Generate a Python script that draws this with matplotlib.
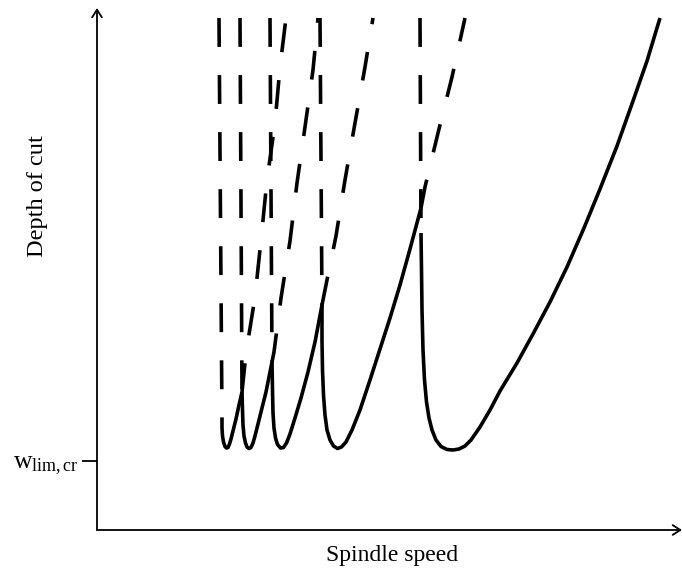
import matplotlib
matplotlib.use("Agg")
import matplotlib.pyplot as plt

plt.rcParams['font.family'] = ['Liberation Serif', 'DejaVu Serif']
plt.rcParams['mathtext.fontset'] = 'custom'
plt.rcParams['mathtext.rm'] = 'Liberation Serif'
plt.rcParams['mathtext.it'] = 'Liberation Serif:italic'

# stability lobes (arbitrary units: speed, depth of cut)
# solid part of each lobe, from the left cusp through the minimum to the right cusp
lobe1_x = [125, 125, 125.5, 126.5, 128, 129.5, 131, 132.5, 134, 136, 139, 142, 145]
lobe1_y = [110, 102, 94, 88, 83.5, 82, 82.5, 86, 91, 99, 111, 125, 138]
lobe2_x = [145, 145.5, 146, 147, 148.5, 150, 152, 154, 156, 158, 161, 165, 169, 172, 175]
lobe2_y = [138, 120, 105, 94, 87, 83, 81.5, 82.5, 87, 94, 106, 122, 138, 153, 168]
lobe3_x = [175, 175.5, 176, 177, 178.5, 180.5, 183.5, 186.5, 189.5, 193, 198, 204, 211, 218, 225]
lobe3_y = [168, 140, 117, 102, 92, 85.5, 82, 82.5, 87, 96, 112, 132, 158, 188, 225]
lobe4_x = [225, 225, 225.5, 226.5, 228, 230, 233, 236.5, 240.5, 244.5, 249, 255, 263, 273,
           283, 293, 303, 313, 324]
lobe4_y = [225, 190, 160, 135, 115, 100, 90, 84, 81.5, 83, 88, 100, 120, 150,
           181, 212, 245, 281, 322]
lobe5_x = [324, 324.5, 325, 326, 327.5, 329.5, 332, 335, 339, 344, 350, 356, 362, 368, 374,
           383, 393, 403, 420, 436, 453, 470, 487, 503, 520, 536, 550, 563]
lobe5_y = [297, 260, 220, 180, 150, 128, 112, 100, 90, 83.5, 80.5, 80, 81, 84, 90,
           103, 120, 139, 167, 196, 228, 263, 302, 341, 384, 429, 469, 512]

# dashed continuations: left branches (top -> cusp)
left1_x, left1_y = [122, 125], [512, 110]
left2_x, left2_y = [143, 145], [512, 138]
left3_x, left3_y = [173, 175], [512, 168]
left4_x, left4_y = [223, 225], [512, 225]
left5_x, left5_y = [323, 324], [512, 297]

# dashed continuations: right branches (cusp -> top)
right1_x = [145, 149, 158, 164, 170, 178, 183, 189]
right1_y = [138, 177, 233, 290, 350, 407, 463, 512]
right2_x = [175, 177, 184, 193, 200, 208, 216, 221]
right2_y = [168, 178, 232, 289, 347, 403, 460, 512]
right3_x = [225, 230, 239, 248, 258, 268, 276]
right3_y = [225, 250, 294, 350, 407, 463, 512]
right4_x = [324, 328, 341, 355, 368]
right4_y = [322, 343, 397, 453, 512]

w_lim_cr = 69

fig = plt.figure(figsize=(6.82, 5.75), dpi=100)
ax = fig.add_axes([97 / 682, 45 / 575, 585 / 682, 522 / 575])
ax.set_xlim(0, 585)
ax.set_ylim(0, 522)

lw = 2.6
solid = [(lobe1_x, lobe1_y), (lobe2_x, lobe2_y), (lobe3_x, lobe3_y),
         (lobe4_x, lobe4_y), (lobe5_x, lobe5_y)]
for x, y in solid:
    ax.plot(x, y, color="k", lw=lw, solid_joinstyle="round", solid_capstyle="butt")

dashed = [(left1_x, left1_y), (left2_x, left2_y), (left3_x, left3_y),
          (left4_x, left4_y), (left5_x, left5_y),
          (right1_x, right1_y), (right2_x, right2_y), (right3_x, right3_y),
          (right4_x, right4_y)]
for x, y in dashed:
    ax.plot(x, y, color="k", lw=lw, dashes=(8.0, 7.8), dash_capstyle="butt")

for s in ax.spines.values():
    s.set_visible(False)

# axes with open arrow heads
arrow = dict(arrowstyle="->,head_length=0.55,head_width=0.35", lw=1.3, color="k",
             shrinkA=0, shrinkB=0)
ax.annotate("", xy=(1, 0), xytext=(0, 0), xycoords="axes fraction", arrowprops=arrow,
            annotation_clip=False)
ax.annotate("", xy=(0, 1), xytext=(0, 0), xycoords="axes fraction", arrowprops=arrow,
            annotation_clip=False)

ax.set_xticks([])
ax.set_yticks([w_lim_cr])
ax.set_yticklabels([r"w$_{\mathrm{lim,cr}}$"])
ax.tick_params(axis="y", length=11, width=1.3, pad=2, labelsize=18.5)

fig.text(392 / 682, 1 - 556 / 575, "Spindle speed", fontsize=17, ha="center", va="center")
fig.text(37 / 682, 1 - 196 / 575, "Depth of cut", fontsize=17.5, rotation=90,
         ha="center", va="center")

fig.savefig("out.png", dpi=100)
